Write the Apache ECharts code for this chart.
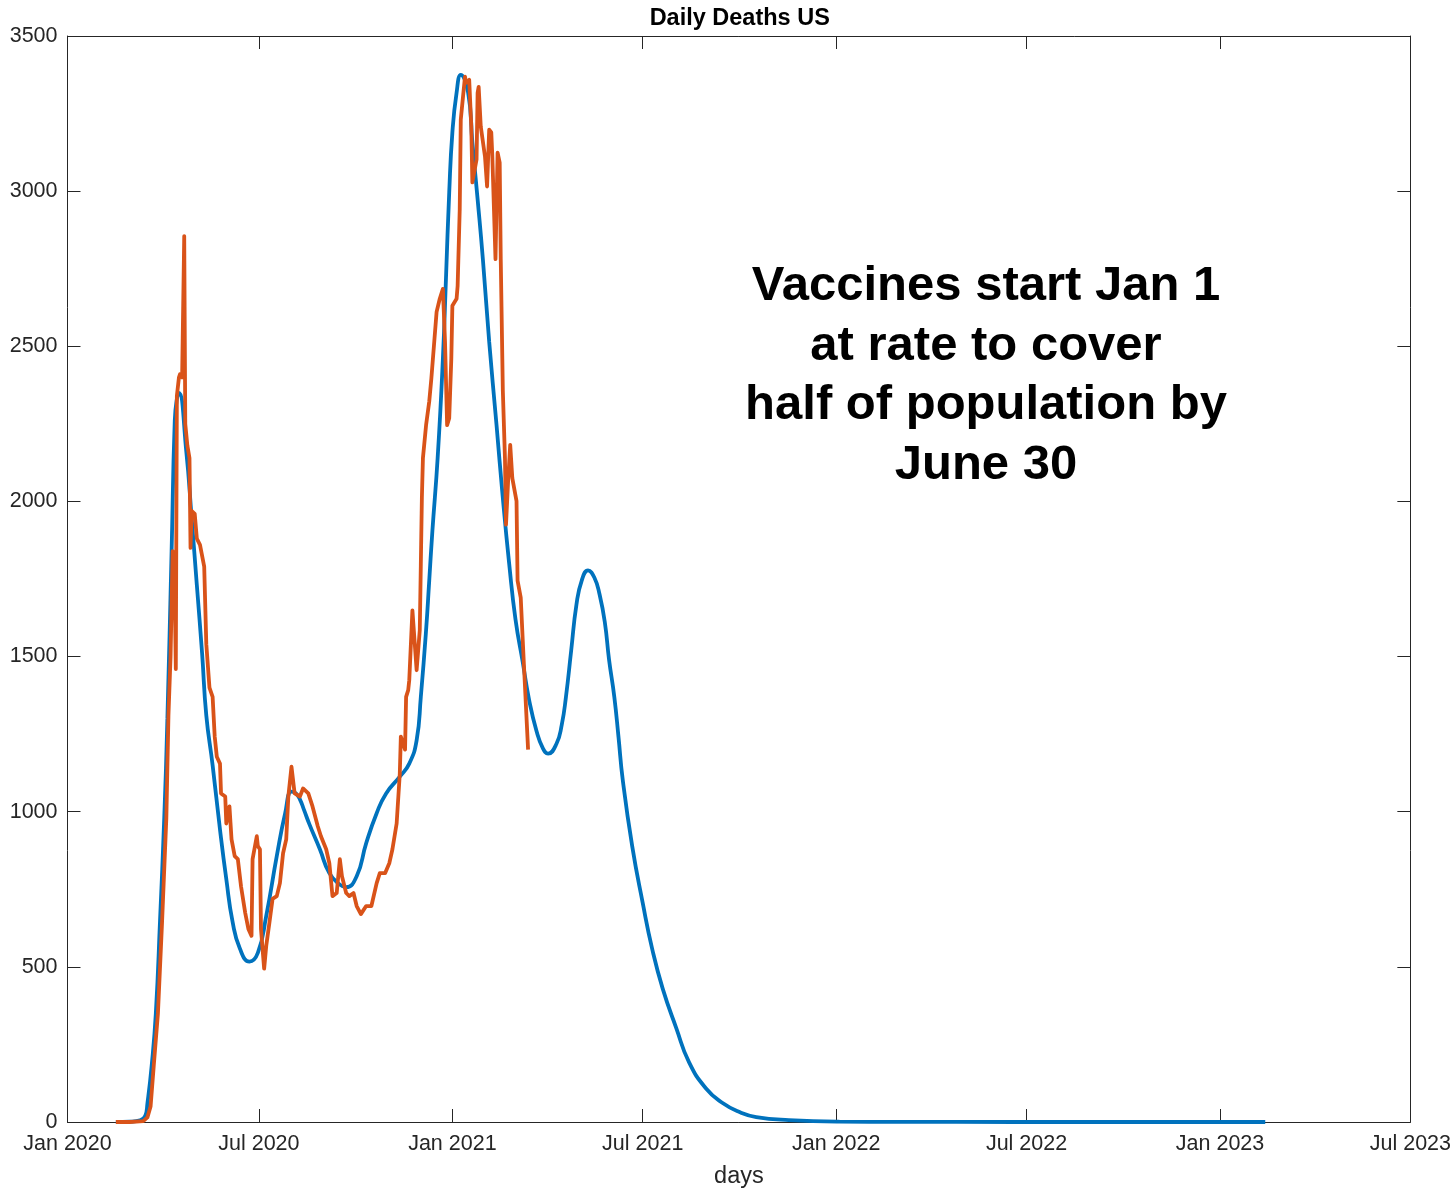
<!DOCTYPE html>
<html>
<head>
<meta charset="utf-8">
<title>Daily Deaths US</title>
<script src="https://cdn.jsdelivr.net/npm/echarts@6/dist/echarts.min.js"></script>
<style>
  html, body { margin: 0; padding: 0; width: 100%; height: 100%; overflow: hidden; background: #ffffff; }
  #chart { width: 100%; height: 100%; }
</style>
</head>
<body>
<div id="chart"></div>
<script>
// x values are days since 2020-01-01
const tickDays = [0, 182, 366, 547, 731, 912, 1096, 1277];
const tickLabels = ['Jan 2020', 'Jul 2020', 'Jan 2021', 'Jul 2021', 'Jan 2022', 'Jul 2022', 'Jan 2023', 'Jul 2023'];
const yTicks = [0, 500, 1000, 1500, 2000, 2500, 3000, 3500];

// model: daily deaths with vaccination starting Jan 1
const modelDays = [46, 59, 69, 74, 76, 80, 84, 88, 92, 95, 99, 102, 104, 106, 113, 118, 123, 128, 132, 138, 145, 151, 157, 164, 173, 181, 189, 199, 207, 213, 217, 221, 225, 230, 240, 249, 259, 265, 275, 284, 294, 303, 316, 325, 332, 336, 341, 344, 347, 352, 357, 360, 363, 366, 370, 374, 381, 385, 390, 395, 401, 408, 414, 420, 426, 433, 439, 446, 452, 457, 465, 470, 474, 479, 484, 489, 495, 501, 506, 511, 515, 520, 524, 528, 537, 547, 556, 566, 579, 591, 607, 623, 639, 655, 686, 734, 791, 900, 1139];
const modelDeaths = [0, 1, 5, 20, 60, 180, 350, 650, 980, 1300, 1840, 2260, 2330, 2350, 2160, 1950, 1730, 1510, 1310, 1150, 943, 783, 645, 558, 517, 545, 664, 857, 995, 1065, 1060, 1040, 1005, 960, 879, 802, 765, 757, 792, 898, 995, 1059, 1113, 1155, 1230, 1370, 1585, 1745, 1905, 2140, 2461, 2727, 2996, 3189, 3317, 3375, 3317, 3157, 2974, 2781, 2515, 2246, 2010, 1800, 1620, 1480, 1360, 1260, 1205, 1187, 1219, 1280, 1370, 1520, 1668, 1745, 1778, 1755, 1700, 1610, 1490, 1370, 1240, 1103, 889, 706, 558, 430, 302, 193, 109, 61, 32, 16, 6, 1, 0.3, 0.05, 0];

// reported daily deaths
const reportedDays = [46, 59, 72, 76, 79, 82, 86, 90, 94, 96, 98, 100, 102, 103, 104, 106, 107, 109, 111, 112, 114, 116, 117, 118, 121, 123, 126, 130, 132, 135, 138, 140, 142, 145, 146, 150, 151, 154, 156, 159, 162, 165, 169, 172, 175, 176, 180, 181, 183, 184, 187, 189, 192, 195, 199, 202, 205, 208, 210, 213, 216, 221, 224, 229, 233, 238, 241, 246, 249, 252, 256, 259, 261, 265, 268, 272, 275, 279, 284, 289, 294, 297, 302, 306, 309, 313, 316, 317, 321, 322, 324, 325, 328, 332, 335, 336, 337, 338, 341, 344, 346, 349, 351, 354, 357, 359, 361, 363, 365, 366, 370, 371, 373, 374, 378, 379, 382, 384, 385, 389, 390, 391, 393, 397, 399, 401, 403, 404, 407, 409, 411, 412, 414, 416, 417, 419, 421, 423, 427, 428, 431, 434, 438];
const reportedDeaths = [0, 0, 3, 15, 50, 180, 350, 650, 980, 1310, 1500, 1840, 1700, 1460, 2340, 2400, 2410, 2400, 2855, 2250, 2180, 2140, 1850, 1970, 1960, 1880, 1860, 1790, 1540, 1400, 1370, 1242, 1177, 1155, 1059, 1049, 962, 1017, 911, 857, 847, 760, 674, 622, 600, 847, 921, 889, 879, 622, 494, 568, 642, 719, 728, 770, 866, 911, 1049, 1145, 1059, 1049, 1075, 1059, 1017, 953, 921, 879, 834, 728, 738, 847, 792, 738, 728, 738, 696, 670, 696, 696, 770, 802, 802, 834, 879, 962, 1123, 1242, 1200, 1370, 1392, 1424, 1649, 1456, 1585, 1797, 2011, 2140, 2246, 2322, 2396, 2525, 2611, 2653, 2685, 2515, 2246, 2268, 2461, 2631, 2653, 2695, 2942, 3231, 3369, 3349, 3359, 3208, 3028, 3102, 3317, 3336, 3208, 3112, 3015, 3198, 3189, 3112, 2781, 3124, 3092, 2781, 2355, 2140, 1925, 2065, 2182, 2075, 2001, 1745, 1690, 1476, 1200];

const chartTitle = 'Daily Deaths US';
const noteLines = ['Vaccines start Jan 1', 'at rate to cover', 'half of population by', 'June 30'];

const FONT = '"Liberation Sans", Arial, Helvetica, sans-serif';
const INK = '#262626';

const pairs = (xs, ys) => xs.map((x, i) => [x, ys[i]]);

const tickCommon = { show: true, inside: true, length: 13, lineStyle: { color: INK, width: 1 } };

const chart = echarts.init(document.getElementById('chart'), null, { renderer: 'canvas' });

chart.setOption({
  animation: false,
  backgroundColor: '#ffffff',
  grid: { left: 67.5, right: 42, top: 36, bottom: 67, containLabel: false },
  xAxis: [
    {
      type: 'value',
      position: 'bottom',
      min: tickDays[0],
      max: tickDays[tickDays.length - 1],
      name: 'days',
      nameLocation: 'middle',
      nameGap: 43,
      nameTextStyle: { fontFamily: FONT, fontSize: 23.5, color: INK },
      axisLine: { show: true, onZero: false, lineStyle: { color: INK, width: 1 } },
      axisTick: Object.assign({}, tickCommon, { customValues: tickDays }),
      axisLabel: {
        customValues: tickDays,
        margin: 11,
        fontFamily: FONT,
        fontSize: 21.5,
        color: INK,
        formatter: (v) => tickLabels[tickDays.indexOf(v)] || ''
      },
      splitLine: { show: false }
    },
    {
      type: 'value',
      position: 'top',
      min: tickDays[0],
      max: tickDays[tickDays.length - 1],
      axisLine: { show: true, onZero: false, lineStyle: { color: INK, width: 1 } },
      axisTick: Object.assign({}, tickCommon, { customValues: tickDays }),
      axisLabel: { show: false },
      splitLine: { show: false }
    }
  ],
  yAxis: [
    {
      type: 'value',
      position: 'left',
      min: yTicks[0],
      max: yTicks[yTicks.length - 1],
      interval: 500,
      axisLine: { show: true, onZero: false, lineStyle: { color: INK, width: 1 } },
      axisTick: tickCommon,
      axisLabel: {
        margin: 10,
        fontFamily: FONT,
        fontSize: 21.5,
        color: INK,
        formatter: (v) => String(v)
      },
      splitLine: { show: false }
    },
    {
      type: 'value',
      position: 'right',
      min: yTicks[0],
      max: yTicks[yTicks.length - 1],
      interval: 500,
      axisLine: { show: true, onZero: false, lineStyle: { color: INK, width: 1 } },
      axisTick: tickCommon,
      axisLabel: { show: false },
      splitLine: { show: false }
    }
  ],
  series: [
    {
      name: 'model',
      type: 'line',
      data: pairs(modelDays, modelDeaths),
      showSymbol: false,
      smooth: 0.5,
      lineStyle: { color: '#0072BD', width: 3.8 },
      z: 2
    },
    {
      name: 'reported',
      type: 'line',
      data: pairs(reportedDays, reportedDeaths),
      showSymbol: false,
      lineStyle: { color: '#D95319', width: 3.8, join: 'round' },
      z: 3
    }
  ],
  graphic: [
    {
      type: 'text',
      x: 739.75,
      y: 19,
      style: {
        text: chartTitle,
        align: 'center',
        verticalAlign: 'middle',
        fontFamily: FONT,
        fontSize: 23.5,
        fontWeight: 'bold',
        fill: '#000000'
      }
    },
    {
      type: 'text',
      x: 986,
      y: 257,
      style: {
        text: noteLines.join('\n'),
        align: 'center',
        verticalAlign: 'top',
        lineHeight: 59.5,
        fontFamily: FONT,
        fontSize: 49,
        fontWeight: 'bold',
        fill: '#000000'
      }
    }
  ]
});
window.addEventListener('resize', () => chart.resize());
</script>
</body>
</html>
